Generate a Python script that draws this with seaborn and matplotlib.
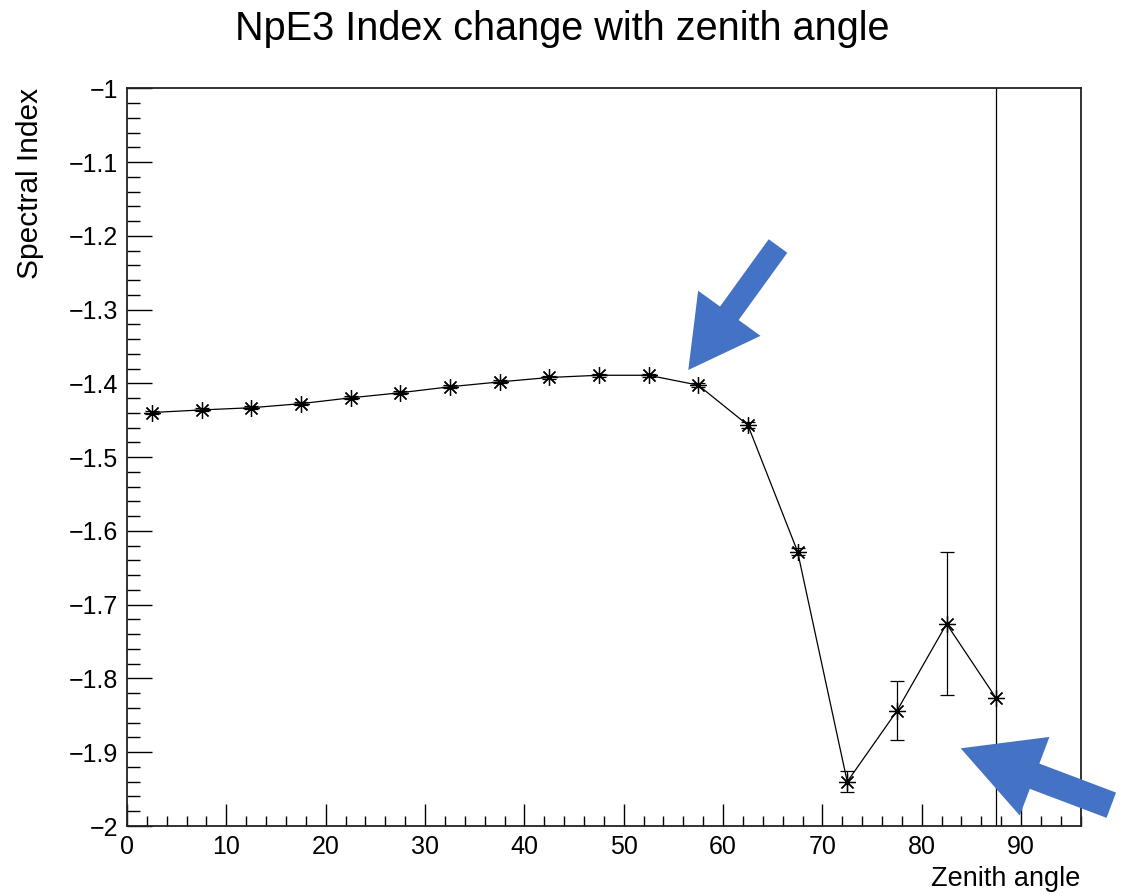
import numpy as np
import pandas as pd
import matplotlib
matplotlib.use("Agg")
import matplotlib.pyplot as plt
import seaborn as sns
from matplotlib.patches import FancyArrow
from matplotlib.transforms import IdentityTransform
from matplotlib.ticker import FixedLocator, MultipleLocator

# ---- data ----
zenith = [2.5, 7.5, 12.5, 17.5, 22.5, 27.5, 32.5, 37.5, 42.5,
          47.5, 52.5, 57.5, 62.5, 67.5, 72.5, 77.5, 82.5, 87.5]
spectral_index = [-1.4395, -1.436, -1.433, -1.4275, -1.4196, -1.4127, -1.4046, -1.398, -1.392,
                  -1.389, -1.389, -1.4024, -1.4566, -1.628, -1.940, -1.844, -1.726, -1.827]
index_err = [0.002, 0.002, 0.002, 0.002, 0.002, 0.002, 0.002, 0.002, 0.002,
             0.002, 0.002, 0.003, 0.004, 0.005, 0.014, 0.040, 0.097, 1.2]
x_ticks = [0, 10, 20, 30, 40, 50, 60, 70, 80, 90]
y_ticks = [-2.0, -1.9, -1.8, -1.7, -1.6, -1.5, -1.4, -1.3, -1.2, -1.1, -1.0]
y_tick_labels = ["\u22122", "\u22121.9", "\u22121.8", "\u22121.7", "\u22121.6", "\u22121.5",
                 "\u22121.4", "\u22121.3", "\u22121.2", "\u22121.1", "\u22121"]
title = "NpE3 Index change with zenith angle"
x_label = "Zenith angle"
y_label = "Spectral Index"

df = pd.DataFrame({"zenith": zenith, "index": spectral_index, "err": index_err})

sns.set_theme(style="ticks")
plt.rcParams["font.family"] = ["Liberation Sans", "DejaVu Sans"]

W, H = 1136, 894
fig = plt.figure(figsize=(W / 100, H / 100), dpi=100)
fig.patch.set_facecolor("white")
ax = fig.add_axes([127 / W, 1 - 826 / H, (1080.7 - 127) / W, (826 - 88.3) / H])
ax.set_facecolor("white")

ax.errorbar(df["zenith"], df["index"], yerr=df["err"], fmt="none",
            ecolor="black", elinewidth=0.9, capsize=5, capthick=0.9, zorder=2)
sns.lineplot(data=df, x="zenith", y="index", ax=ax, color="black", lw=0.9,
             marker=(8, 2, 0), markersize=12, markeredgecolor="black",
             markeredgewidth=0.9, sort=False, errorbar=None, zorder=3)

ax.set_xlim(0, 96)
ax.set_ylim(-2, -1)

ax.xaxis.set_major_locator(FixedLocator(x_ticks))
ax.set_xticklabels([str(t) for t in x_ticks])
ax.xaxis.set_minor_locator(MultipleLocator(2))
ax.yaxis.set_major_locator(FixedLocator(y_ticks))
ax.set_yticklabels(y_tick_labels)
ax.yaxis.set_minor_locator(MultipleLocator(0.02))

ax.tick_params(axis="both", which="both", direction="in", top=False, right=False,
               colors="black", labelcolor="black", width=1.0, labelsize=18)
ax.tick_params(axis="x", which="major", length=16, pad=6.5)
ax.tick_params(axis="x", which="minor", length=7.5)
ax.tick_params(axis="y", which="major", length=18, pad=6.5)
ax.tick_params(axis="y", which="minor", length=9.5)

for s in ax.spines.values():
    s.set_linewidth(1.3)
    s.set_color("#222222")
    s.set_visible(True)

ax.set_xlabel(x_label, fontsize=19.5, loc="right", color="black")
ax.xaxis.set_label_coords(1.0, -0.054)
ax.set_ylabel(y_label, fontsize=21.5, loc="top", color="black")
ax.yaxis.set_label_coords(-0.087, 1.0)

fig.text(562 / W, 1 - 29 / H, title, ha="center", va="center", fontsize=28.5, color="black")

# blue annotation arrows (pixel coordinates)
arrow_color = "#4472C4"
a1 = FancyArrow(778, H - 246, -89.7, -124, width=23, head_width=77, head_length=70,
                length_includes_head=True, transform=IdentityTransform(),
                color=arrow_color, lw=0, zorder=10)
a2 = FancyArrow(1111.3, H - 805.2, -150.6, 56.9, width=27, head_width=84, head_length=79,
                length_includes_head=True, transform=IdentityTransform(),
                color=arrow_color, lw=0, zorder=10)
fig.add_artist(a1)
fig.add_artist(a2)

fig.savefig("out.png", dpi=100, facecolor="white")
